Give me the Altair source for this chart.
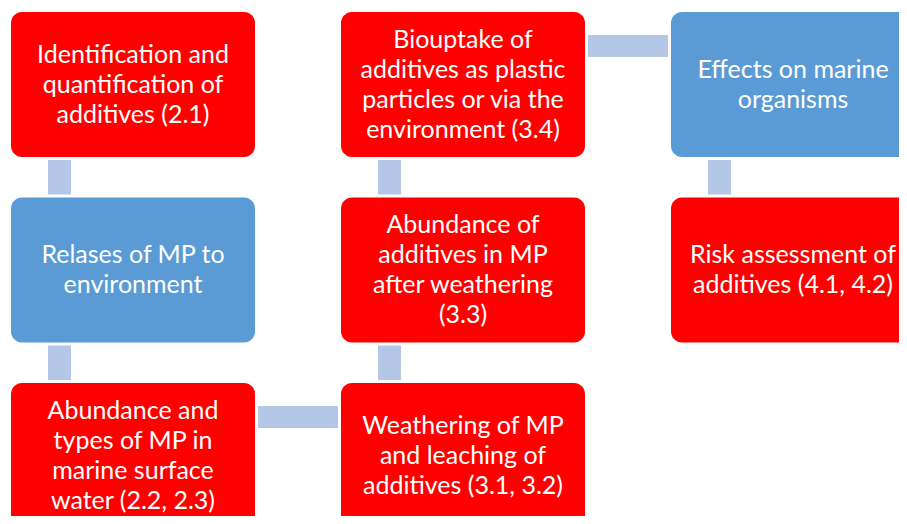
import altair as alt
import pandas as pd

# Flowchart content
labels = [
    "Identification and\nquantification of\nadditives (2.1)",
    "Relases of MP to\nenvironment",
    "Abundance and\ntypes of MP in\nmarine surface\nwater (2.2, 2.3)",
    "Biouptake of\nadditives as plastic\nparticles or via the\nenvironment (3.4)",
    "Abundance of\nadditives in MP\nafter weathering\n(3.3)",
    "Weathering of MP\nand leaching of\nadditives (3.1, 3.2)",
    "Effects on marine\norganisms",
    "Risk assessment of\nadditives (4.1, 4.2)",
]
cols = [0, 0, 0, 1, 1, 1, 2, 2]
rows = [0, 1, 2, 0, 1, 2, 0, 1]
kinds = ["red", "blue", "red", "red", "red", "red", "blue", "red"]
links = [(0, 1), (1, 2), (2, 5), (5, 4), (4, 3), (3, 6), (6, 7)]

# layout constants (page pixels)
X0, DX, BW = 11, 330, 244
Y0, DY, BH = 12, 185.5, 145
GAP = 3
VW = 23          # vertical connector width
VOFF = 37        # offset of vertical connector from box left
HH = 22          # horizontal connector height
HOFF = 23        # offset of horizontal connector from box top
LH = 30          # text line height

boxes = pd.DataFrame({"label": labels, "col": cols, "row": rows, "kind": kinds})
boxes["x"] = X0 + boxes["col"] * DX
boxes["x2"] = boxes["x"] + BW
boxes["y"] = Y0 + boxes["row"] * DY
boxes["y2"] = boxes["y"] + BH
boxes["cx"] = (boxes["x"] + boxes["x2"]) / 2
nlines = boxes["label"].str.count("\n") + 1
boxes["ty"] = (boxes["y"] + boxes["y2"]) / 2 - (nlines - 1) / 2 * LH

conn = []
for a, b in links:
    ca, ra, cb, rb = cols[a], rows[a], cols[b], rows[b]
    if ca == cb:
        top, bot = min(ra, rb), max(ra, rb)
        x = X0 + ca * DX + VOFF
        conn.append({"x": x, "x2": x + VW,
                     "y": Y0 + top * DY + BH + GAP, "y2": Y0 + bot * DY - GAP})
    else:
        left, right = min(ca, cb), max(ca, cb)
        y = Y0 + ra * DY + HOFF
        conn.append({"x": X0 + left * DX + BW + GAP, "x2": X0 + right * DX - GAP,
                     "y": y, "y2": y + HH})
conn = pd.DataFrame(conn)

xs = alt.Scale(domain=[8, 899])
ys = alt.Scale(domain=[8, 516], reverse=True)
noax = None

links_layer = alt.Chart(conn).mark_rect(color="#B4C7E7", clip=True).encode(
    x=alt.X("x:Q", scale=xs, axis=noax), x2="x2",
    y=alt.Y("y:Q", scale=ys, axis=noax), y2="y2")

box_layer = alt.Chart(boxes).mark_rect(cornerRadius=11, clip=True).encode(
    x=alt.X("x:Q", scale=xs, axis=noax), x2="x2",
    y=alt.Y("y:Q", scale=ys, axis=noax), y2="y2",
    color=alt.Color("kind:N", scale=alt.Scale(domain=["red", "blue"],
                                              range=["#FF0000", "#5B9BD5"]), legend=None))

text_layer = alt.Chart(boxes).mark_text(
    color="white", font="Lato", fontSize=25, lineBreak="\n", lineHeight=LH,
    align="center", baseline="middle", clip=True).encode(
    x=alt.X("cx:Q", scale=xs, axis=noax),
    y=alt.Y("ty:Q", scale=ys, axis=noax),
    text="label:N")

chart = (links_layer + box_layer + text_layer).properties(
    width=891, height=508, padding=0, autosize=alt.AutoSizeParams(type="none")
).configure_view(stroke=None)

chart.save("out.html", embed_options={"renderer": "svg", "actions": False})
